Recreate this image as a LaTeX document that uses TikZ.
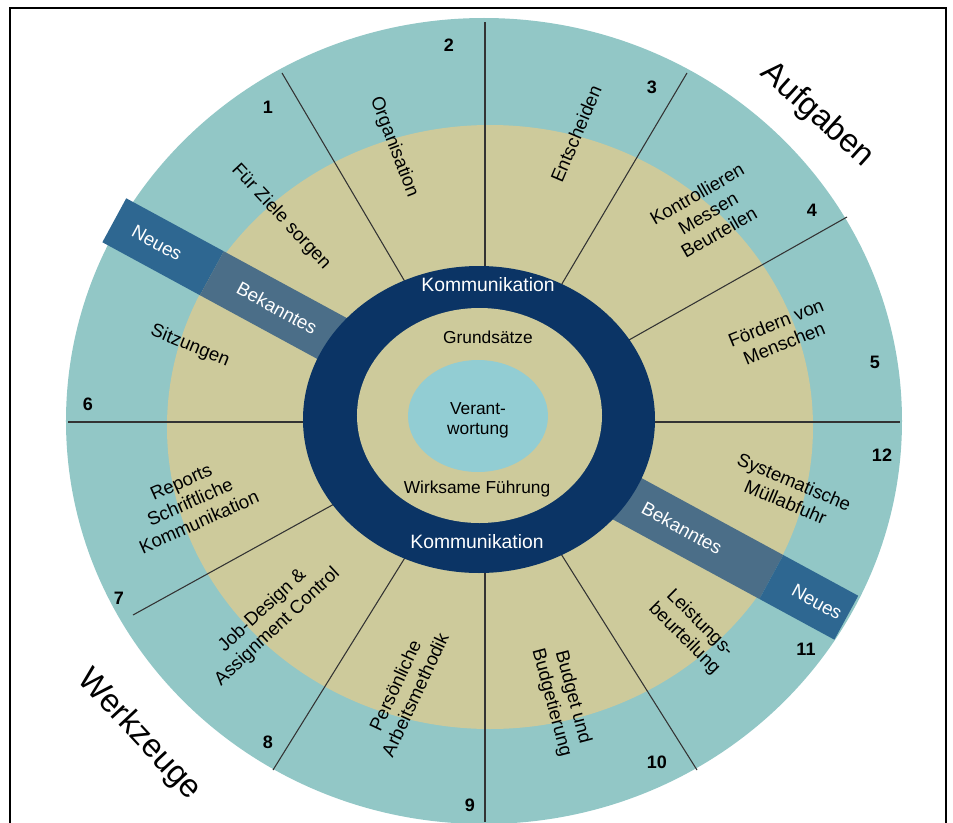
\documentclass[tikz,border=0pt]{standalone}
\usepackage{fontspec}
\setmainfont{Liberation Sans}
\definecolor{tealout}{HTML}{92C7C6}
\definecolor{beige}{HTML}{CDCA9B}
\definecolor{navy}{HTML}{0B3465}
\definecolor{tealin}{HTML}{92CDD3}
\definecolor{neues}{HTML}{2E6791}
\definecolor{bekannt}{HTML}{4B6E88}
\definecolor{linegray}{HTML}{333333}
\tikzset{
  lbl/.style={font=\fontsize{14}{16.5}\selectfont, text=black, align=center, inner sep=0pt},
  num/.style={font=\fontsize{13.5}{15}\selectfont\bfseries, text=black, inner sep=0pt},
  inlbl/.style={font=\fontsize{13}{15}\selectfont, text=black, align=center, inner sep=0pt},
  komm/.style={font=\fontsize{14.5}{16}\selectfont, text=white, inner sep=0pt},
  bandlbl/.style={font=\fontsize{14}{16}\selectfont, text=white, inner sep=0pt, rotate=-28.5},
  biglbl/.style={font=\fontsize{24.5}{28}\selectfont, text=black, inner sep=0pt},
  sectorline/.style={draw=linegray, line width=0.8pt},
}
\begin{document}
\begin{tikzpicture}[x=0.75pt,y=0.75pt]
\useasboundingbox (-484,-401) rectangle (469,421);
% frame
\draw[line width=1.3pt, black] (-474,413) rectangle (462,-420);
% outer ring and middle ring
\fill[tealout] (0,0) ellipse [x radius=418, y radius=403];
\fill[beige] (6,-6) ellipse [x radius=323, y radius=302];
% sector lines
\draw[sectorline] (1,60) -- (1,399);
\draw[sectorline] (1,-60) -- (1,-401);
\draw[sectorline] (-50,90) -- (-202,348);
\draw[sectorline] (50,90) -- (203,348);
\draw[sectorline] (90,50) -- (363,204);
\draw[sectorline] (60,-1) -- (416,-1);
\draw[sectorline] (-60,-1) -- (-416,-1);
\draw[sectorline] (50,-90) -- (213,-349);
\draw[sectorline] (-50,-90) -- (-211,-349);
\draw[sectorline] (-90,-50) -- (-351,-194);
% bands
\begin{scope}[rotate=-28.5]
  \fill[neues] (-420.7,-25) rectangle (-309.7,25);
  \fill[bekannt] (-309.7,-25) rectangle (-120,25);
  \fill[bekannt] (120,-25) rectangle (327,25);
  \fill[neues] (327,-25) rectangle (412.3,25);
\end{scope}
% core rings
\fill[navy] (-5,1.5) ellipse [x radius=176, y radius=153.5];
\fill[beige] (-4.5,5.5) ellipse [x radius=122.5, y radius=107.5];
\fill[tealin] (-6,5) ellipse [x radius=70, y radius=56];
% core texts
\node[komm] (k1) at (4,136) {Kommunikation};
\node[komm] (k2) at (-7,-121) {Kommunikation};
\node[inlbl] (gs) at (4,84) {Grunds\"atze};
\node[inlbl] (wf) at (-7,-68) {Wirksame F\"uhrung};
\node[inlbl] (vw) at (-6,1) {Verant-\\wortung};
% sector labels
\node[lbl, rotate=-47] (s1) at (-203,204) {F\"ur Ziele sorgen};
\node[lbl, rotate=-69] (s2) at (-90,274) {Organisation};
\node[lbl, rotate=67] (s3) at (92,287) {Entscheiden};
\node[lbl, rotate=30] (s4) at (224,208) {Kontrollieren\\Messen\\Beurteilen};
\node[lbl, rotate=22] (s5) at (296,88) {F\"ordern von\\Menschen};
\node[lbl, rotate=-22] (s6) at (-294,75) {Sitzungen};
\node[lbl, rotate=24] (s7) at (-294,-81) {Reports\\Schriftliche\\Kommunikation};
\node[lbl, rotate=43] (s8) at (-214,-198) {Job-Design \&\\Assignment Control};
\node[lbl, rotate=65] (s9) at (-79,-269) {Pers\"onliche\\Arbeitsmethodik};
\node[lbl, rotate=-75] (s10) at (78,-279) {Budget und\\Budgetierung};
\node[lbl, rotate=-45] (s11) at (208,-210) {Leistungs-\\beurteilung};
\node[lbl, rotate=-23] (s12) at (306,-71) {Systematische\\M\"ullabfuhr};
% band labels
\node[bandlbl] (b1) at (-327,178) {Neues};
\node[bandlbl] (b2) at (-207,113) {Bekanntes};
\node[bandlbl] (b3) at (198,-107) {Bekanntes};
\node[bandlbl] (b4) at (333,-181) {Neues};
% big labels
\node[biglbl, rotate=-42] (aufg) at (333,306) {Aufgaben};
\node[biglbl, rotate=-47] (werk) at (-345,-314) {Werkzeuge};
% numbers
\node[num] (n1) at (-216,314) {1};
\node[num] (n2) at (-35,376) {2};
\node[num] (n3) at (168,334) {3};
\node[num] (n4) at (328,211) {4};
\node[num] (n5) at (391,59) {5};
\node[num] (n6) at (-396,17) {6};
\node[num] (n7) at (-365,-177) {7};
\node[num] (n8) at (-216,-321) {8};
\node[num] (n9) at (-14,-384) {9};
\node[num] (n10) at (173,-341) {10};
\node[num] (n11) at (322,-228) {11};
\node[num] (n12) at (398,-34) {12};
\end{tikzpicture}
\end{document}
